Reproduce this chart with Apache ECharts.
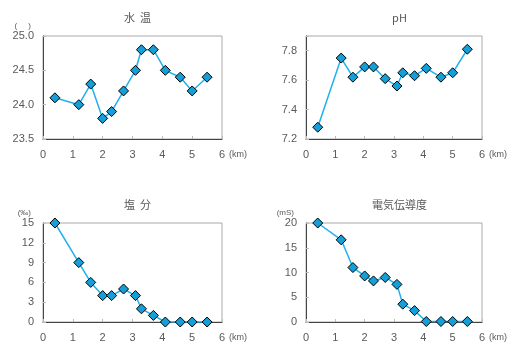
<!DOCTYPE html>
<html><head><meta charset="utf-8">
<script src="https://cdn.jsdelivr.net/npm/echarts@6/dist/echarts.min.js"></script>
<style>html,body{margin:0;padding:0;background:#fff}#c{width:508px;height:343px}</style>
</head><body><div id="c"></div>
<script>
const distanceKm = [0.4, 1.2, 1.6, 2.0, 2.3, 2.7, 3.1, 3.3, 3.7, 4.1, 4.6, 5.0, 5.5];
const waterTemp = [24.1, 24.0, 24.3, 23.8, 23.9, 24.2, 24.5, 24.8, 24.8, 24.5, 24.4, 24.2, 24.4];
const pH = [7.28, 7.75, 7.62, 7.69, 7.69, 7.61, 7.56, 7.65, 7.63, 7.68, 7.62, 7.65, 7.81];
const salinity = [15, 9, 6, 4, 4, 5, 4, 2, 1, 0, 0, 0, 0];
const conductivity = [20, 16.6, 11.0, 9.3, 8.3, 9.0, 7.6, 3.6, 2.3, 0.1, 0.1, 0.1, 0.1];
const titles = ['水  温', 'pH', '塩  分', '電気伝導度'];
const units = ['(     )', '', '(‰)', '(mS)'];
const xTicks = {min: 0, max: 6, interval: 1};
const yScales = [
  {min: 23.5, max: 25.0, interval: 0.5, dec: 1},
  {min: 7.2, max: 7.9, interval: 0.2, dec: 1, hideMax: true},
  {min: 0, max: 15, interval: 3, dec: 0},
  {min: 0, max: 20, interval: 5, dec: 0}
];
const seriesData = [waterTemp, pH, salinity, conductivity];

const grids = [
  {left: 43, top: 36, width: 179, height: 103},
  {left: 306, top: 36, width: 177, height: 103},
  {left: 43, top: 223, width: 179, height: 103},
  {left: 306, top: 223, width: 177, height: 103}
];
const FONT = '"Liberation Sans", Arial, "Noto Sans CJK JP", sans-serif';
const labelColor = '#595959';

const option = {
  animation: false,
  textStyle: {fontFamily: FONT},
  title: grids.map((g, i) => ({
    text: titles[i],
    left: g.left + g.width / 2,
    top: g.top - 29,
    textAlign: 'center',
    textStyle: {fontSize: 11, fontWeight: 'normal', color: labelColor, fontFamily: '"Noto Sans CJK JP", "Liberation Sans", sans-serif'}
  })),
  grid: grids.map(g => Object.assign({show: true, borderColor: '#aaa', borderWidth: 1, backgroundColor: 'transparent'}, g)),
  xAxis: grids.map((g, i) => ({
    type: 'value', gridIndex: i, min: xTicks.min, max: xTicks.max, interval: xTicks.interval,
    name: '(km)', nameLocation: 'end', nameGap: 7,
    nameTextStyle: {fontSize: 9, color: labelColor, verticalAlign: 'top', padding: [11, 0, 0, 0]},
    axisLine: {show: true, lineStyle: {color: '#444', width: 1}},
    axisTick: {show: true, inside: true, length: 3, lineStyle: {color: '#bbb'}},
    axisLabel: {fontSize: 11, color: labelColor, margin: 10},
    splitLine: {show: false}
  })),
  yAxis: grids.map((g, i) => {
    const s = yScales[i];
    return {
      type: 'value', gridIndex: i, min: s.min, max: s.max, interval: s.interval,
      name: units[i], nameLocation: 'end', nameGap: 6,
      nameTextStyle: {fontSize: 8, color: labelColor, align: 'right', padding: [0, 12, 0, 0]},
      axisLine: {show: true, lineStyle: {color: '#444', width: 1}},
      axisTick: {show: true, inside: true, length: 3, lineStyle: {color: '#bbb'}},
      axisLabel: {
        fontSize: 11, color: labelColor, margin: 9,
        formatter: v => (s.hideMax && Math.abs(v - s.max) < 1e-9) ? '' : Number(v).toFixed(s.dec)
      },
      splitLine: {show: false}
    };
  }),
  series: seriesData.map((vals, i) => ({
    type: 'line', xAxisIndex: i, yAxisIndex: i,
    data: distanceKm.map((x, j) => [x, vals[j]]),
    symbol: 'diamond', symbolSize: 10,
    lineStyle: {color: '#22b0ec', width: 1.5},
    itemStyle: {color: '#159fd8', borderColor: '#000', borderWidth: 1},
    z: 3
  }))
};
const chart = echarts.init(document.getElementById('c'), null, {renderer: 'canvas'});
chart.setOption(option);
</script>
</body></html>
